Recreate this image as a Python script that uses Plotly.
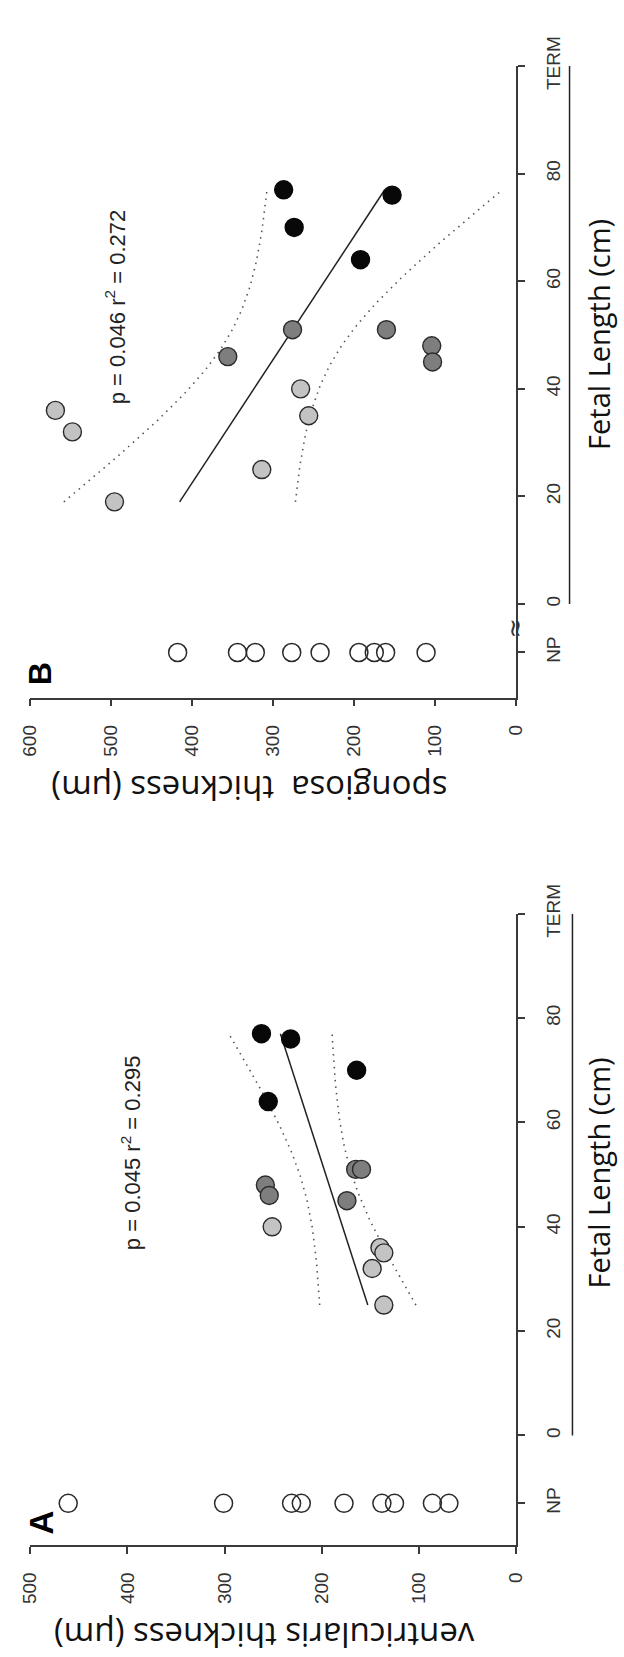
import numpy as np
import plotly.graph_objects as go

# ---------------- data ----------------
# Panel A: ventricularis thickness (µm) vs fetal length (cm)
fl_A = [77, 76, 70, 64, 51, 51, 48, 46, 45, 40, 36, 35, 32, 25]
th_A = [262, 232, 164, 255, 165, 159, 258, 254, 174, 251, 140, 136, 148, 136]
grp_A = ["black", "black", "black", "black", "dark", "dark", "dark", "dark", "dark",
         "light", "light", "light", "light", "light"]
np_A = [461, 301, 231, 221, 177, 138, 125, 86, 69]   # non-pregnant (NP) values
NP_POS_A = -13

# Panel B: spongiosa thickness (µm) vs fetal length (cm)
fl_B = [77, 76, 70, 64, 51, 51, 48, 45, 46, 40, 35, 36, 32, 25, 19]
th_B = [287, 153, 274, 192, 276, 160, 104, 103, 356, 266, 256, 569, 548, 314, 496]
grp_B = ["black", "black", "black", "black", "dark", "dark", "dark", "dark", "dark",
         "light", "light", "light", "light", "light", "light"]
np_B = [418, 344, 322, 277, 242, 194, 175, 161, 111]
NP_POS_B = -9

fetal_ticks = [0, 20, 40, 60, 80, 100]
fetal_labels = ["0", "20", "40", "60", "80", "TERM"]
thick_ticks_A = [0, 100, 200, 300, 400, 500]
thick_ticks_B = [0, 100, 200, 300, 400, 500, 600]

stats_A = "p = 0.045 r<sup>2</sup> = 0.295"
stats_B = "p = 0.046 r<sup>2</sup> = 0.272"
T_CRIT_A = 2.1788  # t(0.975, df=12)
T_CRIT_B = 2.1604  # t(0.975, df=13)

# ---------------- layout helpers ----------------
W, H = 624, 1657
def px(x):
    return x / W
def py(y):
    return 1 - y / H

COLORS = {"black": "#080808", "dark": "#7e7e7e", "light": "#c3c3c3"}
TICK_FONT = dict(family="Liberation Sans, Arial, sans-serif", size=19, color="#333333")
AX_COL = "#3a3a3a"


def fit_band(fl, th, t):
    x = np.asarray(fl, float)
    y = np.asarray(th, float)
    n = len(x)
    b, a = np.polyfit(x, y, 1)
    xs = np.linspace(x.min(), x.max(), 80)
    yhat = a + b * xs
    resid = y - (a + b * x)
    s = np.sqrt((resid ** 2).sum() / (n - 2))
    sxx = ((x - x.mean()) ** 2).sum()
    se = s * np.sqrt(1.0 / n + (xs - x.mean()) ** 2 / sxx)
    return xs, yhat, yhat - t * se, yhat + t * se


fig = go.Figure()


def add_panel(fl, th, grp, npv, np_pos, t, xa, ya):
    xs, yhat, lo, hi = fit_band(fl, th, t)
    for band in (lo, hi):
        fig.add_trace(go.Scatter(x=band, y=xs, mode="lines", xaxis=xa, yaxis=ya,
                                 line=dict(color="#555555", width=1.6, dash="1.5px,5px")))
    fig.add_trace(go.Scatter(x=yhat, y=xs, mode="lines", xaxis=xa, yaxis=ya,
                             line=dict(color="#222222", width=1.5)))
    for g in ("light", "dark", "black"):
        gx = [v for v, k in zip(th, grp) if k == g]
        gy = [f for f, k in zip(fl, grp) if k == g]
        fig.add_trace(go.Scatter(
            x=gx, y=gy, mode="markers", xaxis=xa, yaxis=ya,
            marker=dict(size=18, color=COLORS[g],
                        line=dict(color="#2a2a2a" if g != "black" else "#080808", width=1.4))))
    fig.add_trace(go.Scatter(
        x=npv, y=[np_pos] * len(npv), mode="markers", xaxis=xa, yaxis=ya,
        marker=dict(size=18, color="rgba(255,255,255,0)", line=dict(color="#2a2a2a", width=1.5))))


add_panel(fl_A, th_A, grp_A, np_A, NP_POS_A, T_CRIT_A, "x", "y")
add_panel(fl_B, th_B, grp_B, np_B, NP_POS_B, T_CRIT_B, "x2", "y2")

XDOM = [px(20), px(522.5)]


def xaxis_style(rng, ticks, anchor):
    return dict(domain=XDOM, range=rng, anchor=anchor, showgrid=False, zeroline=False,
                showline=True, linecolor=AX_COL, linewidth=1.5, ticks="outside", ticklen=7,
                tickwidth=1.5, tickcolor=AX_COL, tickvals=ticks, ticktext=[str(v) for v in ticks],
                tickangle=-90, tickfont=TICK_FONT, ticklabelstandoff=11, fixedrange=True)


def yaxis_style(dom, rng, np_pos, anchor):
    return dict(domain=dom, range=rng, anchor=anchor, side="right", showgrid=False,
                zeroline=False, showline=True, linecolor=AX_COL, linewidth=1.5,
                ticks="outside", ticklen=7, tickwidth=1.5, tickcolor=AX_COL,
                tickvals=[np_pos] + fetal_ticks, ticktext=["NP"] + fetal_labels,
                tickangle=-90, tickfont=TICK_FONT, ticklabelstandoff=13, fixedrange=True)


fig.update_layout(
    width=W, height=H, margin=dict(l=0, r=0, t=0, b=0),
    paper_bgcolor="white", plot_bgcolor="white", showlegend=False, hovermode=False,
    xaxis=xaxis_style([500, 0], thick_ticks_A, "y"),
    yaxis=yaxis_style([py(1543), py(900)], [-21, 100], NP_POS_A, "x"),
    xaxis2=xaxis_style([600, 0], thick_ticks_B, "y2"),
    yaxis2=yaxis_style([py(680), py(36.7)], [-17.4, 100], NP_POS_B, "x2"),
)

TITLE_FONT = dict(family="Open Sans, Noto Sans, sans-serif", size=33, color="#111111")
ann = [
    dict(text="ventricularis thickness (µm)", x=px(262), y=py(1635), textangle=180,
         font=TITLE_FONT),
    dict(text="spongiosa\u00a0 thickness (µm)", x=px(247), y=py(773), textangle=180,
         font=TITLE_FONT),
    dict(text="Fetal Length (cm)", x=px(608), y=py(1164), textangle=-90,
         font=dict(family="Open Sans, Noto Sans, sans-serif", size=29, color="#111111")),
    dict(text="Fetal Length (cm)", x=px(608), y=py(310), textangle=-90,
         font=dict(family="Open Sans, Noto Sans, sans-serif", size=29, color="#111111")),
    dict(text=stats_A, x=px(124), y=py(1143), textangle=-90,
         font=dict(family="Liberation Sans, Arial, sans-serif", size=22, color="#222222")),
    dict(text=stats_B, x=px(108), y=py(282), textangle=-90,
         font=dict(family="Liberation Sans, Arial, sans-serif", size=22, color="#222222")),
    dict(text="<b>A</b>", x=px(32), y=py(1520), textangle=-90,
         font=dict(family="Liberation Sans, Arial, sans-serif", size=33, color="#000000")),
    dict(text="<b>B</b>", x=px(30), y=py(655), textangle=-90,
         font=dict(family="Liberation Sans, Arial, sans-serif", size=32, color="#000000")),
]
for a in ann:
    a.update(xref="paper", yref="paper", showarrow=False, xanchor="center", yanchor="middle")
fig.update_layout(annotations=ann)

# axis break mark on panel B between NP and 0
fig.add_annotation(text="≈", x=0, y=(NP_POS_B + 0) / 2, xref="x2", yref="y2", showarrow=False,
                   textangle=90, font=dict(family="DejaVu Sans", size=24, color="#333333"))

# underline bars spanning 0..TERM beside each fetal axis
fig.add_shape(type="line", xref="paper", yref="y", x0=px(581), x1=px(581), y0=0, y1=100,
              line=dict(color="#222222", width=1.5))
fig.add_shape(type="line", xref="paper", yref="y2", x0=px(578), x1=px(578), y0=0, y1=100,
              line=dict(color="#222222", width=1.5))

fig.write_html("out.html")
